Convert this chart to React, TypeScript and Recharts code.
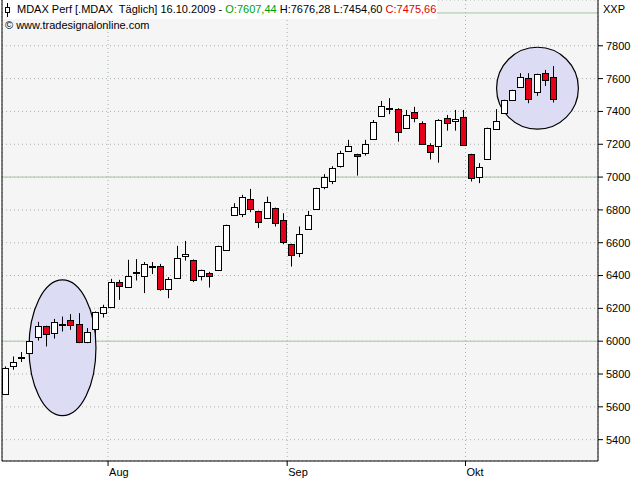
import React from 'react';
import { ComposedChart, Bar, XAxis, YAxis, CartesianGrid, ReferenceLine, ReferenceArea } from 'recharts';

// Daily candles (trading days), MDAX, mid-July .. 16.10.2009
const opens = [5678, 5846, 5900, 5928, 6025, 6092, 6049, 6100, 6128, 6102, 5995, 6074, 6171, 6208, 6360, 6333, 6416, 6400, 6457, 6457, 6317, 6388, 6518, 6494, 6396, 6415, 6433, 6558, 6768, 6774, 6865, 6792, 6750, 6811, 6738, 6591, 6537, 6683, 6805, 6938, 6975, 7070, 7158, 7139, 7146, 7231, 7371, 7419, 7414, 7298, 7395, 7328, 7194, 7188, 7359, 7340, 7365, 7139, 6999, 7109, 7292, 7389, 7468, 7551, 7602, 7521, 7633, 7607.44];
const highs = [5846, 5907, 5934, 6004, 6118, 6095, 6136, 6150, 6165, 6171, 6080, 6181, 6222, 6380, 6374, 6496, 6500, 6482, 6482, 6471, 6390, 6581, 6611, 6498, 6436, 6423, 6582, 6710, 6841, 6892, 6928, 6795, 6881, 6814, 6780, 6594, 6699, 6794, 6935, 7018, 7066, 7160, 7227, 7142, 7227, 7348, 7464, 7481, 7420, 7409, 7428, 7340, 7206, 7353, 7379, 7409, 7409, 7142, 7085, 7301, 7414, 7471, 7532, 7633, 7633, 7630, 7653, 7676.28];
const lows = [5674, 5826, 5873, 5925, 6004, 5968, 6016, 6059, 6069, 5988, 5988, 6033, 6144, 6205, 6252, 6330, 6370, 6293, 6409, 6307, 6262, 6382, 6491, 6360, 6370, 6327, 6430, 6552, 6765, 6756, 6786, 6689, 6747, 6699, 6591, 6455, 6512, 6680, 6802, 6926, 6957, 7058, 7155, 7009, 7131, 7228, 7368, 7383, 7216, 7295, 7334, 7197, 7107, 7088, 7283, 7283, 7191, 6973, 6963, 7106, 7289, 7386, 7465, 7548, 7450, 7495, 7555, 7454.60];
const closes = [5836, 5873, 5905, 6001, 6092, 6043, 6118, 6104, 6098, 5995, 6055, 6177, 6208, 6360, 6339, 6396, 6420, 6470, 6461, 6315, 6380, 6506, 6530, 6372, 6433, 6396, 6579, 6707, 6817, 6878, 6805, 6725, 6847, 6719, 6604, 6524, 6652, 6770, 6932, 7001, 7056, 7147, 7188, 7127, 7200, 7334, 7432, 7423, 7273, 7377, 7359, 7200, 7152, 7347, 7328, 7353, 7194, 6993, 7064, 7298, 7340, 7468, 7529, 7608, 7478, 7627, 7592, 7475.66];

const monthTicks = [13.6, 35.5, 57.3];
const monthLabels = ['Aug', 'Sep', 'Okt'];
const priceTicks = [5400, 5600, 5800, 6000, 6200, 6400, 6600, 6800, 7000, 7200, 7400, 7600, 7800];
const guideLevels = [6000, 7000, 8000];
const xDomain: [number, number] = [0.633, 73.5];
const yDomain: [number, number] = [5270, 8079];
// highlighted regions (ellipses), in data units
const highlightX = [[3.93, 12.12], [61.1, 71.1]];
const highlightY = [[5546, 6374], [7292, 7791]];

const FONT = '"Liberation Sans", Arial, sans-serif';
const RED = '#e5001a';

const data = opens.map((o, k) => ({ i: k + 1, o, h: highs[k], l: lows[k], c: closes[k], range: [lows[k], highs[k]] }));
const last = data[data.length - 1];
const fmt = (v: number) => v.toFixed(2).replace('.', ',');

const Candle = (props: any) => {
  const { x, y, width, height, payload } = props;
  const { o, h, l, c } = payload;
  const cx = Math.floor(x + width / 2) + 0.5;
  const py = (v: number) => y + ((h - v) / (h - l)) * height;
  const top = Math.round(py(Math.max(o, c))) + 0.5;
  const bot = Math.round(py(Math.min(o, c))) + 0.5;
  const up = c >= o;
  return (
    <g>
      <line x1={cx} x2={cx} y1={y} y2={y + height} stroke="#000" strokeWidth={1} />
      <rect x={cx - 3} y={top} width={6} height={Math.max(bot - top, 1)} fill={up ? '#ffffff' : RED} stroke="#000" strokeWidth={1} />
    </g>
  );
};

const EllipseShape = (props: any) => {
  const { x, y, width, height } = props;
  return <ellipse cx={x + width / 2} cy={y + height / 2} rx={width / 2} ry={height / 2} fill="#dcdcf5" stroke="#000" strokeWidth={1.2} />;
};

const MonthTick = (props: any) => {
  const { x, y, payload } = props;
  const idx = monthTicks.indexOf(payload.value);
  return (
    <text x={x + 1} y={y} dy="0.71em" textAnchor="start" fontSize={11} fontFamily={FONT} fill="#000">
      {monthLabels[idx]}
    </text>
  );
};

export default function App() {
  return (
    <div style={{ position: 'absolute', left: 0, top: 0, width: 640, height: 480, background: '#fff', fontFamily: FONT }}>
      <ComposedChart width={640} height={480} data={data} margin={{ top: 0, right: 0, bottom: 0, left: 2 }}>
        <CartesianGrid stroke="#a9b3a9" strokeDasharray="1 3" fill="#f5f5f5" />
        <XAxis
          dataKey="i"
          type="number"
          domain={xDomain}
          allowDataOverflow
          ticks={monthTicks}
          interval={0}
          height={19}
          tickSize={5}
          tickMargin={2}
          axisLine={{ stroke: '#000' }}
          tickLine={{ stroke: '#000' }}
          tick={<MonthTick />}
        />
        <YAxis
          orientation="right"
          type="number"
          domain={yDomain}
          allowDataOverflow
          ticks={priceTicks}
          interval={0}
          width={42}
          tickSize={5}
          tickMargin={3}
          axisLine={{ stroke: '#000' }}
          tickLine={{ stroke: '#000' }}
          tick={{ fontSize: 11, fontFamily: FONT, fill: '#000' }}
        />
        {guideLevels.map((v) => (
          <ReferenceLine key={v} y={v} stroke="#a3c9a3" strokeWidth={1} zIndex={50} ifOverflow="visible" />
        ))}
        {highlightX.map((xr, k) => (
          <ReferenceArea key={k} x1={xr[0]} x2={xr[1]} y1={highlightY[k][0]} y2={highlightY[k][1]} shape={<EllipseShape />} zIndex={80} />
        ))}
        <Bar dataKey="range" barSize={7} shape={<Candle />} isAnimationActive={false} />
        <ReferenceLine x={xDomain[0]} stroke="#000" strokeWidth={1} zIndex={900} />
      </ComposedChart>

      <div style={{ position: 'absolute', left: 3, top: 0, width: 434, height: 19, background: '#fff' }} />
      <svg style={{ position: 'absolute', left: 4, top: 3 }} width={8} height={14}>
        <line x1={3.5} x2={3.5} y1={0} y2={14} stroke="#000" />
        <rect x={1.5} y={4.5} width={4} height={5} fill="#fff" stroke="#000" />
      </svg>
      <div style={{ position: 'absolute', left: 17, top: 3, fontSize: 11, lineHeight: '13px', whiteSpace: 'pre', color: '#000' }}>
        {'MDAX Perf [.MDAX  Täglich] 16.10.2009 - '}
        <span style={{ color: '#00a000' }}>{'O:' + fmt(last.o)}</span>
        {' H:' + fmt(last.h) + ' L:' + fmt(last.l) + ' '}
        <span style={{ color: '#e00000' }}>{'C:' + fmt(last.c)}</span>
      </div>
      <div style={{ position: 'absolute', left: 5, top: 19, fontSize: 11, lineHeight: '13px', whiteSpace: 'pre', color: '#000' }}>
        {'© www.tradesignalonline.com'}
      </div>
      <div style={{ position: 'absolute', left: 603, top: 3, fontSize: 11, lineHeight: '13px', color: '#000' }}>XXP</div>
    </div>
  );
}
